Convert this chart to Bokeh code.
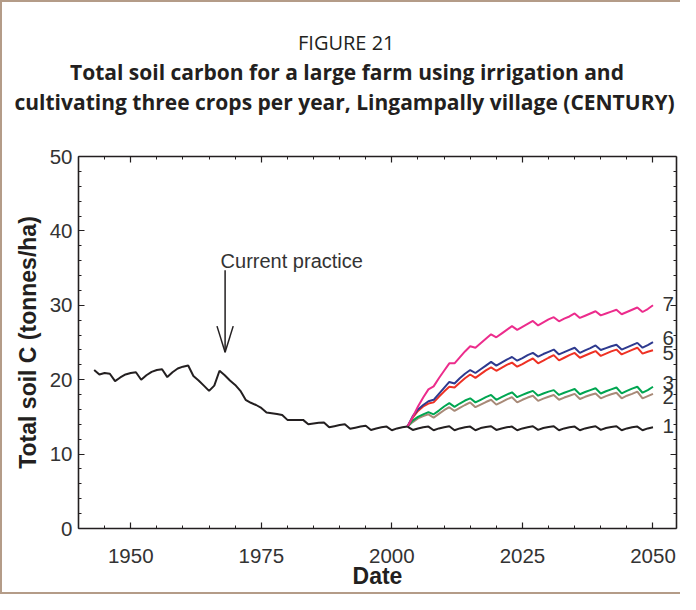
from bokeh.plotting import figure
from bokeh.layouts import column
from bokeh.models import (FixedTicker, LinearAxis, Label, Arrow, Range1d,
                          CustomLabelingPolicy, Title)
from bokeh.embed import file_html
from bokeh.resources import INLINE

# ---------------- data ----------------
hist_years = list(range(1943, 2004))
hist_carbon = [
    21.3, 20.7, 20.9, 20.8, 19.8, 20.3, 20.7, 20.9, 21.0, 20.0,      # 1943-1952
    20.6, 21.05, 21.3, 21.4, 20.35, 21.0, 21.5, 21.75, 21.9, 20.5,   # 1953-1962
    19.9, 19.2, 18.5, 19.2, 21.2, 20.6, 19.9, 19.3, 18.5, 17.3,      # 1963-1972
    16.9, 16.6, 16.2, 15.6, 15.5, 15.4, 15.25, 14.6, 14.6, 14.6,     # 1973-1982
    14.6, 14.0, 14.1, 14.2, 14.25, 13.6, 13.75, 13.9, 14.0, 13.4,    # 1983-1992
    13.55, 13.7, 13.8, 13.25, 13.45, 13.6, 13.7, 13.2, 13.45, 13.6,  # 1993-2002
    13.7,                                                            # 2003
]

proj_years = list(range(2003, 2051))
scenario_1 = [
    13.7, 13.25, 13.45, 13.6, 13.7, 13.2, 13.45, 13.6, 13.75, 13.2,
    13.45, 13.6, 13.7, 13.2, 13.5, 13.65, 13.75, 13.25, 13.45, 13.6,
    13.7, 13.2, 13.45, 13.6, 13.75, 13.25, 13.5, 13.65, 13.75, 13.2,
    13.45, 13.6, 13.7, 13.2, 13.45, 13.6, 13.75, 13.25, 13.5, 13.65,
    13.75, 13.2, 13.45, 13.6, 13.7, 13.2, 13.45, 13.6,
]
scenario_2 = [
    13.7, 14.3, 14.8, 15.1, 15.35, 14.9, 15.4, 15.9, 16.3, 15.8,
    16.2, 16.6, 16.95, 16.3, 16.65, 17.0, 17.3, 16.65, 17.0, 17.35,
    17.65, 16.95, 17.3, 17.6, 17.85, 17.15, 17.45, 17.7, 17.95, 17.3,
    17.6, 17.85, 18.1, 17.4, 17.7, 17.95, 18.15, 17.5, 17.8, 18.05,
    18.25, 17.5, 17.85, 18.1, 18.4, 17.5, 17.8, 18.1,
]
scenario_3 = [
    13.7, 14.5, 15.0, 15.35, 15.65, 15.35, 15.85, 16.4, 16.85, 16.35,
    16.8, 17.2, 17.5, 16.95, 17.3, 17.65, 17.95, 17.3, 17.65, 18.0,
    18.3, 17.65, 17.95, 18.25, 18.5, 17.85, 18.15, 18.4, 18.6, 17.95,
    18.25, 18.5, 18.75, 18.05, 18.35, 18.6, 18.85, 18.15, 18.45, 18.7,
    18.95, 18.15, 18.5, 18.8, 19.05, 18.25, 18.6, 19.05,
]
scenario_5 = [
    13.7, 14.9, 15.8, 16.4, 16.8, 16.95, 17.7, 18.4, 19.05, 18.95,
    19.6, 20.2, 20.7, 20.25, 20.75, 21.25, 21.65, 21.2, 21.6, 22.0,
    22.3, 21.75, 22.1, 22.5, 22.85, 22.2, 22.55, 22.95, 23.3, 22.6,
    22.95, 23.3, 23.6, 22.95, 23.25, 23.55, 23.85, 23.2, 23.5, 23.8,
    24.05, 23.4, 23.7, 24.0, 24.3, 23.5, 23.75, 23.95,
]
scenario_6 = [
    13.7, 15.1, 16.0, 16.6, 17.1, 17.3, 18.1, 18.9, 19.7, 19.5,
    20.2, 20.8, 21.3, 20.9, 21.4, 21.9, 22.4, 21.9, 22.3, 22.7,
    23.05, 22.55, 22.9, 23.3, 23.6, 23.1, 23.45, 23.75, 24.05, 23.4,
    23.7, 24.0, 24.3, 23.6, 23.95, 24.25, 24.6, 24.0, 24.25, 24.5,
    24.7, 24.05, 24.35, 24.65, 24.95, 24.3, 24.65, 25.05,
]
scenario_7 = [
    13.7, 15.0, 16.4, 17.6, 18.7, 19.1, 20.2, 21.2, 22.2, 22.2,
    23.0, 23.8, 24.5, 24.3, 24.9, 25.5, 26.1, 25.7, 26.2, 26.7,
    27.2, 26.7, 27.1, 27.5, 27.9, 27.3, 27.7, 28.1, 28.4, 27.85,
    28.2, 28.5, 28.9, 28.3, 28.6, 28.9, 29.2, 28.65, 28.9, 29.15,
    29.4, 28.8, 29.1, 29.4, 29.7, 29.1, 29.5, 30.0,
]
scenario_names = ["2", "3", "5", "6", "7", "1"]
scenario_values = {"1": scenario_1, "2": scenario_2, "3": scenario_3,
                   "5": scenario_5, "6": scenario_6, "7": scenario_7}

x_major_ticks = [1950, 1975, 2000, 2025, 2050]
x_minor_ticks = [1940, 1945, 1955, 1960, 1965, 1970, 1980, 1985, 1990, 1995,
                 2005, 2010, 2015, 2020, 2030, 2035, 2040, 2045]
y_major_ticks = [0, 10, 20, 30, 40, 50]
y_minor_ticks = [2, 4, 6, 8, 12, 14, 16, 18, 22, 24, 26, 28,
                 32, 34, 36, 38, 42, 44, 46, 48]

title_lines = ["FIGURE 21",
               "Total soil carbon for a large farm using irrigation and",
               "cultivating three crops per year, Lingampally village (CENTURY)"]

# ---------------- styling ----------------
W = 680
TITLE_H = 130
MAIN_H = 464
LEFT, RIGHT = 78, 4
INK = "#231f20"
colors = {"1": INK, "2": "#a88a78", "3": "#00a651", "5": "#ee3124",
          "6": "#2e3a8f", "7": "#ec2c8c"}
label_y = {"1": 13.8, "2": 17.7, "3": 19.5, "5": 23.6, "6": 25.6, "7": 30.2}
label_x = 2052.9

# ---------------- title block (titles stacked above an empty strip) ----------------
tp = figure(width=W, height=TITLE_H, title=None,
            x_range=Range1d(0, 1), y_range=Range1d(0, 1),
            x_axis_type=None, y_axis_type=None,
            output_backend="svg", toolbar_location=None,
            min_border_left=LEFT, min_border_right=RIGHT,
            min_border_top=115, min_border_bottom=0, outline_line_color=None,
            background_fill_color=None, border_fill_color=None)
tp.grid.visible = False
# (text, font size, weight, horizontal offset from frame left, standoff)
title_specs = [
    (title_lines[2], "21px", "bold", -64, 0),
    (title_lines[1], "21px", "bold", -8.5, 0),
    (title_lines[0], "20px", "normal", 219.5, 0),
]
for txt, size, weight, off, so in title_specs:
    tp.add_layout(Title(text=txt, align="left", offset=off, standoff=so,
                        vertical_align="bottom", text_font="Open Sans",
                        text_font_size=size, text_font_style=weight,
                        text_color=INK), "above")

# ---------------- main chart ----------------
p = figure(width=W, height=MAIN_H,
           x_range=Range1d(1940, 2054.5), y_range=Range1d(0, 50),
           output_backend="svg", toolbar_location=None,
           min_border_left=LEFT, min_border_right=RIGHT,
           min_border_top=26, min_border_bottom=66,
           background_fill_color="white", border_fill_color=None,
           outline_line_color=None)
p.grid.visible = False

xt = FixedTicker(ticks=x_major_ticks, minor_ticks=x_minor_ticks)
yt = FixedTicker(ticks=y_major_ticks, minor_ticks=y_minor_ticks)
no_labels = CustomLabelingPolicy(
    code="for (const i of Array.from(indices)) { indices.unset(i) }\nreturn indices")


def style_axis(ax, show_labels):
    ax.axis_line_color = INK
    ax.axis_line_width = 1.6
    ax.major_tick_line_color = INK
    ax.minor_tick_line_color = INK
    ax.major_tick_line_width = 1.2
    ax.minor_tick_line_width = 1.0
    ax.major_tick_in = 6
    ax.major_tick_out = 0
    ax.minor_tick_in = 3
    ax.minor_tick_out = 0
    if show_labels:
        ax.major_label_text_font = "Liberation Sans"
        ax.major_label_text_font_size = "20.5px"
        ax.major_label_text_color = "#333333"
    else:
        ax.major_label_policy = no_labels
        ax.major_label_text_font_size = "1px"
        ax.major_label_standoff = 0


xa = p.xaxis[0]
xa.ticker = xt
style_axis(xa, True)
xa.major_label_standoff = 20
xa.axis_label = "Date"
xa.axis_label_standoff = -3

ya = p.yaxis[0]
ya.ticker = yt
style_axis(ya, True)
ya.major_label_standoff = 6
ya.axis_label = "Total soil C (tonnes/ha)"
ya.axis_label_standoff = 6

for ax in (xa, ya):
    ax.axis_label_text_font = "Liberation Sans"
    ax.axis_label_text_font_style = "bold"
    ax.axis_label_text_font_size = "23px"
    ax.axis_label_text_color = INK

top_axis = LinearAxis(ticker=xt)
style_axis(top_axis, False)
p.add_layout(top_axis, "above")
right_axis = LinearAxis(ticker=yt)
style_axis(right_axis, False)
p.add_layout(right_axis, "right")

for name in scenario_names:
    p.line(proj_years, scenario_values[name], line_color=colors[name],
           line_width=2)
p.line(hist_years, hist_carbon, line_color=INK, line_width=2)

for name in scenario_names:
    p.add_layout(Label(x=label_x, y=label_y[name], text=name,
                       text_align="center", text_baseline="middle",
                       text_font="Liberation Sans", text_font_size="20.5px",
                       text_color="#333333"))

p.add_layout(Label(x=1980.83, y=35.89, text="Current practice",
                   text_align="center", text_baseline="alphabetic",
                   text_font="Liberation Sans", text_font_size="20px",
                   text_color="#333333"))
arrow_x, arrow_top, arrow_tip = 1968.07, 34.7, 23.7
head_dx, head_dy = 1.55, 3.5
p.add_layout(Arrow(end=None, x_start=arrow_x, y_start=arrow_top,
                   x_end=arrow_x, y_end=arrow_tip, line_color=INK, line_width=1.5))
for s in (-1, 1):
    p.add_layout(Arrow(end=None, x_start=arrow_x + s * head_dx, y_start=arrow_tip + head_dy,
                       x_end=arrow_x, y_end=arrow_tip, line_color=INK, line_width=1.5))

layout = column(tp, p, spacing=0)
layout.styles = {"box-shadow": "inset 2px 0 0 0 #b49c88, inset 0 2px 0 0 #b49c88, inset 0 -2px 0 0 #b49c88"}

open("out.html", "w").write(file_html(layout, INLINE))
